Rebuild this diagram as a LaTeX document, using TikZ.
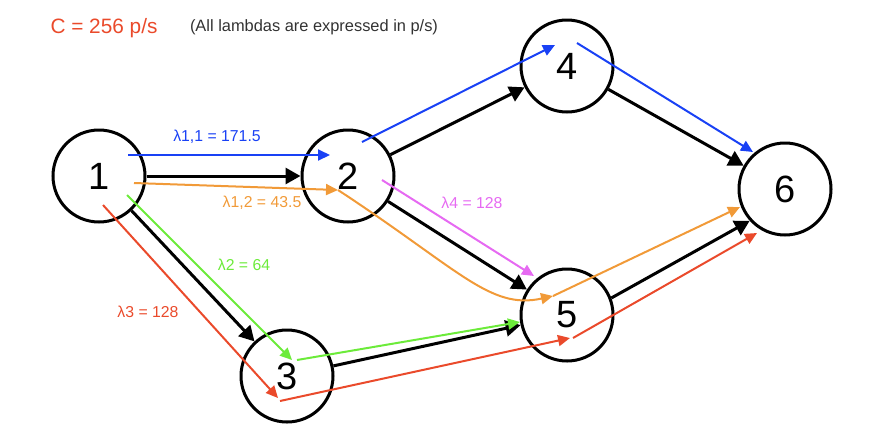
\documentclass[tikz,border=0pt]{standalone}
\usepackage{fontspec}
\setmainfont{Liberation Sans}
\usetikzlibrary{arrows.meta}
\definecolor{cblue}{RGB}{25,65,245}
\definecolor{corange}{RGB}{241,154,56}
\definecolor{cgreen}{RGB}{108,235,58}
\definecolor{cred}{RGB}{234,74,43}
\definecolor{cmag}{RGB}{230,106,242}
\definecolor{cgray}{RGB}{50,50,50}
\tikzset{
  netnode/.style={circle,draw,line width=1.5pt,minimum size=46pt,inner sep=0pt,font=\fontsize{19}{20}\selectfont},
  blk/.style={line width=1.5pt,-{Triangle[length=7.5pt,width=8pt]}},
  flow/.style={line width=1pt,-{Triangle[length=6pt,width=5.5pt]}},
  flowplain/.style={line width=1pt},
  lbl/.style={font=\fontsize{7.9}{9}\selectfont,inner sep=0pt}
}
\begin{document}
\begin{tikzpicture}[x=0.5pt,y=-0.5pt]
\useasboundingbox (0,0) rectangle (894,446);
% nodes
\node[netnode] (n1) at (99,176) {1};
\node[netnode] (n2) at (348,176) {2};
\node[netnode] (n3) at (287,376) {3};
\node[netnode] (n4) at (567,66) {4};
\node[netnode] (n5) at (567,315) {5};
\node[netnode] (n6) at (785,189) {6};
% header texts
\node[inner sep=0pt,text=cred,font=\fontsize{10.4}{12}\selectfont] (cap) at (104,28) {C = 256 p/s};
\node[inner sep=0pt,text=cgray,font=\fontsize{8.2}{10}\selectfont] (note) at (314,27) {(All lambdas are expressed in p/s)};
% black links
\draw[blk] (n1) -- (n2);
\draw[blk] (n1) -- (n3);
\draw[blk] (n2) -- (n4);
\draw[blk] (n2) -- (n5);
\draw[blk] (n3) -- (n5);
\draw[blk] (n4) -- (n6);
\draw[blk] (n5.21) -- (n6.222);
% flow coordinates
\coordinate (b0) at (128,155);
\coordinate (b1) at (330,155);
\coordinate (b2) at (362,142);
\coordinate (b3) at (555,45);
\coordinate (b4) at (577,43);
\coordinate (b5) at (753,152);
\coordinate (o0) at (134,183);
\coordinate (o1) at (338,190);
\coordinate (o2) at (553,296);
\coordinate (o3) at (740,207);
\coordinate (g0) at (127,195);
\coordinate (g1) at (292,360);
\coordinate (g2) at (297,360);
\coordinate (g3) at (520,322);
\coordinate (r0) at (103,205);
\coordinate (r1) at (278,398);
\coordinate (r2) at (280,401);
\coordinate (r3) at (570,338);
\coordinate (r4) at (573,338);
\coordinate (r5) at (757,233);
\coordinate (m0) at (382,180);
\coordinate (m1) at (534,276);
% blue flow
\draw[flow,cblue] (b0) -- (b1);
\draw[flow,cblue] (b2) -- (b3);
\draw[flow,cblue] (b4) -- (b5);
% orange flow
\draw[flow,corange] (o0) -- (o1);
\draw[flow,corange] (o1) .. controls (460,270) and (490,310) .. (o2);
\draw[flow,corange] (o2) -- (o3);
% green flow
\draw[flow,cgreen] (g0) -- (g1);
\draw[flow,cgreen] (g2) -- (g3);
% red flow
\draw[flow,cred] (r0) -- (r1);
\draw[flow,cred] (r2) -- (r3);
\draw[flow,cred] (r4) -- (r5);
% magenta flow
\draw[flow,cmag] (m0) -- (m1);
% labels
\node[lbl,text=cblue] (l11) at (217,137) {λ1,1 = 171.5};
\node[lbl,text=corange] (l12) at (262,203) {λ1,2 = 43.5};
\node[lbl,text=cgreen] (l2) at (244,265) {λ2 = 64};
\node[lbl,text=cred] (l3) at (148,312) {λ3 = 128};
\node[lbl,text=cmag] (l4) at (472,203) {λ4 = 128};
\end{tikzpicture}
\end{document}
